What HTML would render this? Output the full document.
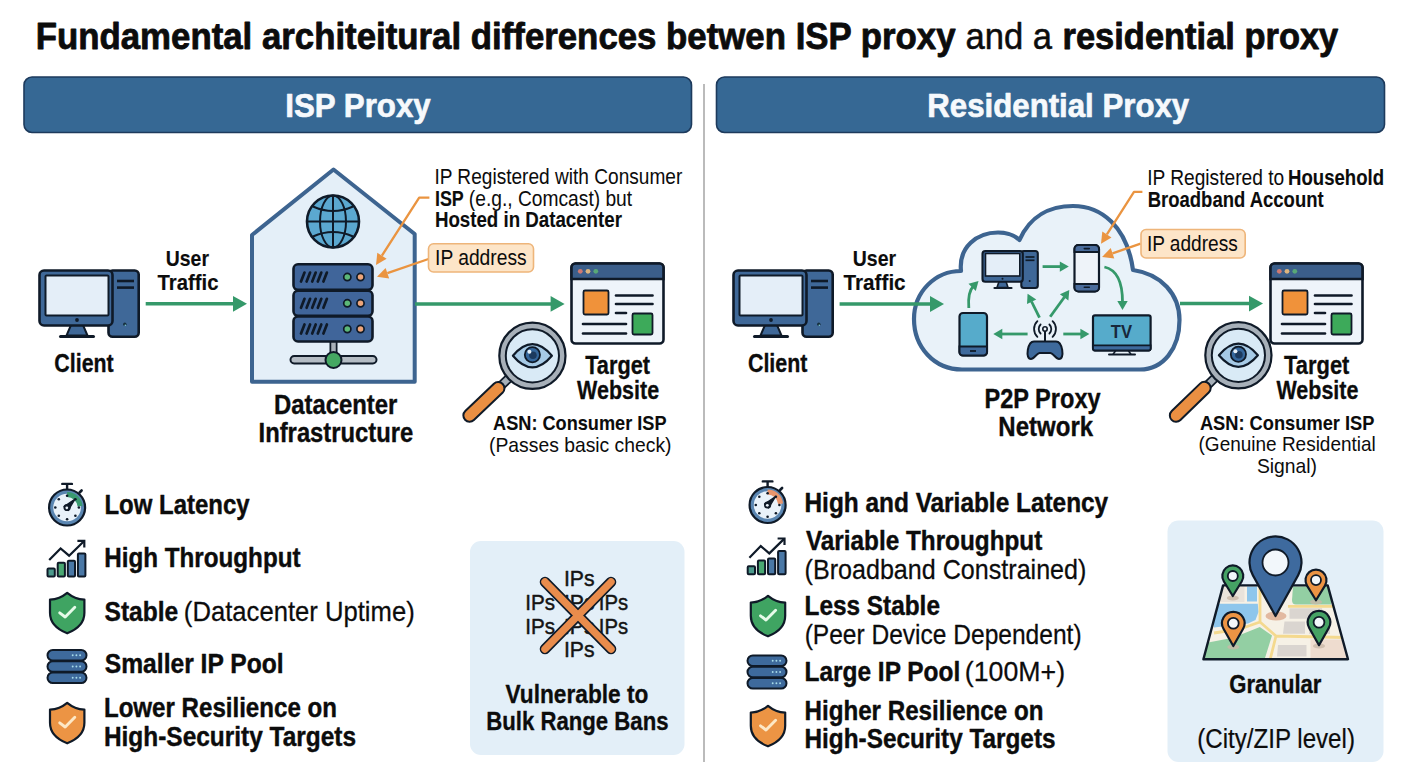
<!DOCTYPE html>
<html><head><meta charset="utf-8"><style>
html,body{margin:0;padding:0;background:#fff;}
svg{display:block;font-family:"Liberation Sans", sans-serif;}
</style></head><body>
<svg width="1408" height="768" viewBox="0 0 1408 768">
<rect width="1408" height="768" fill="#ffffff"/>
<text x="35.74" y="49" font-size="37" font-weight="bold" fill="#0c0c0c" textLength="919.79" lengthAdjust="spacingAndGlyphs" stroke="#0c0c0c" stroke-width="0.81" stroke-linejoin="round" >Fundamental architeitural differences betwen ISP proxy</text>
<text x="965.41" y="49" font-size="37" font-weight="normal" fill="#0c0c0c" textLength="86.67" lengthAdjust="spacingAndGlyphs" stroke="#0c0c0c" stroke-width="0.51" stroke-linejoin="round" >and a</text>
<text x="1062.56" y="49" font-size="37" font-weight="bold" fill="#0c0c0c" textLength="275.72" lengthAdjust="spacingAndGlyphs" stroke="#0c0c0c" stroke-width="0.81" stroke-linejoin="round" >residential proxy</text>
<rect x="24" y="77" width="667.5" height="55.5" rx="8" fill="#366894" stroke="#1d3a5c" stroke-width="1.6"/>
<rect x="716.5" y="77" width="668" height="55.5" rx="8" fill="#366894" stroke="#1d3a5c" stroke-width="1.6"/>
<text x="285.27" y="117" font-size="34" font-weight="bold" fill="#f6f9fc" textLength="145.42" lengthAdjust="spacingAndGlyphs" stroke="#f6f9fc" stroke-width="0.67" stroke-linejoin="round" >ISP Proxy</text>
<text x="927.27" y="117" font-size="34" font-weight="bold" fill="#f6f9fc" textLength="261.96" lengthAdjust="spacingAndGlyphs" stroke="#f6f9fc" stroke-width="0.67" stroke-linejoin="round" >Residential Proxy</text>
<line x1="704" y1="84" x2="704" y2="762" stroke="#b4b4b4" stroke-width="1.8"/>
<g transform="translate(0,0)">
<rect x="108.5" y="270.5" width="30.2" height="66.2" rx="4" fill="#3f6898" stroke="#0f1a28" stroke-width="2.6"/>
<line x1="117" y1="281" x2="134" y2="281" stroke="#0f1a28" stroke-width="2.6"/>
<line x1="117" y1="287.6" x2="134" y2="287.6" stroke="#0f1a28" stroke-width="2.6"/>
<circle cx="124.8" cy="324.3" r="1.7" fill="#16303e"/>
<circle cx="125.3" cy="325.3" r="0.8" fill="#7fd0d8"/>
<polygon points="71,325 83,325 87.5,335.5 66.5,335.5" fill="#3f6898" stroke="#0f1a28" stroke-width="2"/>
<line x1="60.5" y1="336.5" x2="93.5" y2="336.5" stroke="#0f1a28" stroke-width="3" stroke-linecap="round"/>
<rect x="39.5" y="270.5" width="73" height="55" rx="4.5" fill="#3f6898" stroke="#0f1a28" stroke-width="2.6"/>
<rect x="45.5" y="275.5" width="63" height="40" rx="1" fill="#e4eef8" stroke="#0f1a28" stroke-width="2"/>
<circle cx="77" cy="320" r="1.9" fill="#0f1a28"/>
</g>
<text x="54.35" y="372.1" font-size="26" font-weight="bold" fill="#0c0c0c" textLength="59.33" lengthAdjust="spacingAndGlyphs" stroke="#0c0c0c" stroke-width="0.32" stroke-linejoin="round" >Client</text>
<text x="165.84" y="266.3" font-size="22.5" font-weight="bold" fill="#0c0c0c" textLength="43.13" lengthAdjust="spacingAndGlyphs" stroke="#0c0c0c" stroke-width="0.16" stroke-linejoin="round" >User</text>
<text x="157.60" y="289.9" font-size="22.5" font-weight="bold" fill="#0c0c0c" textLength="60.83" lengthAdjust="spacingAndGlyphs" stroke="#0c0c0c" stroke-width="0.16" stroke-linejoin="round" >Traffic</text>
<line x1="145.7" y1="303.8" x2="234" y2="303.8" stroke="#35996a" stroke-width="3.5"/>
<polygon points="233,295.90000000000003 247,303.8 233,311.7" fill="#35996a"/>
<path d="M252,235 L333.5,169.5 L414.7,234 L414.7,381.8 L252,381.8 Z" fill="#e4eff8" stroke="#3d6490" stroke-width="4" stroke-linejoin="round"/>
<circle cx="333" cy="221.5" r="26" fill="#5ba8d0" stroke="#0f1a28" stroke-width="2.6"/>
<ellipse cx="333" cy="221.5" rx="13" ry="26" fill="none" stroke="#0f1a28" stroke-width="2"/>
<line x1="333" y1="195.5" x2="333" y2="247.5" stroke="#0f1a28" stroke-width="2"/>
<line x1="307" y1="221.5" x2="359" y2="221.5" stroke="#0f1a28" stroke-width="2"/>
<path d="M313,206.5 Q333,215.5 353,206.5" fill="none" stroke="#0f1a28" stroke-width="2"/>
<path d="M313,236.5 Q333,227.5 353,236.5" fill="none" stroke="#0f1a28" stroke-width="2"/>
<line x1="333.5" y1="340" x2="333.5" y2="357" stroke="#0f1a28" stroke-width="8"/>
<line x1="333.5" y1="340" x2="333.5" y2="357" stroke="#a8b0b8" stroke-width="4.5"/>
<rect x="290.5" y="356" width="86" height="7.5" rx="3.7" fill="#b4bcc4" stroke="#0f1a28" stroke-width="2"/>
<circle cx="333.5" cy="360" r="8" fill="#45a862" stroke="#0f1a28" stroke-width="2"/>
<rect x="293.5" y="264.3" width="79" height="25.5" rx="4.5" fill="#40659a" stroke="#0f1a28" stroke-width="2.6"/>
<line x1="301.0" y1="281.55" x2="304.5" y2="272.55" stroke="#0f1a28" stroke-width="2.7" stroke-linecap="round"/>
<line x1="306.6" y1="281.55" x2="310.1" y2="272.55" stroke="#0f1a28" stroke-width="2.7" stroke-linecap="round"/>
<line x1="312.2" y1="281.55" x2="315.7" y2="272.55" stroke="#0f1a28" stroke-width="2.7" stroke-linecap="round"/>
<line x1="317.8" y1="281.55" x2="321.3" y2="272.55" stroke="#0f1a28" stroke-width="2.7" stroke-linecap="round"/>
<line x1="323.4" y1="281.55" x2="326.9" y2="272.55" stroke="#0f1a28" stroke-width="2.7" stroke-linecap="round"/>
<circle cx="347.3" cy="277.05" r="3.6" fill="#5cb878" stroke="#0f1a28" stroke-width="1.7"/>
<circle cx="360.5" cy="277.05" r="3.6" fill="#eda57a" stroke="#0f1a28" stroke-width="1.7"/>
<rect x="293.5" y="290.8" width="79" height="25.0" rx="4.5" fill="#40659a" stroke="#0f1a28" stroke-width="2.6"/>
<line x1="301.0" y1="307.8" x2="304.5" y2="298.8" stroke="#0f1a28" stroke-width="2.7" stroke-linecap="round"/>
<line x1="306.6" y1="307.8" x2="310.1" y2="298.8" stroke="#0f1a28" stroke-width="2.7" stroke-linecap="round"/>
<line x1="312.2" y1="307.8" x2="315.7" y2="298.8" stroke="#0f1a28" stroke-width="2.7" stroke-linecap="round"/>
<line x1="317.8" y1="307.8" x2="321.3" y2="298.8" stroke="#0f1a28" stroke-width="2.7" stroke-linecap="round"/>
<line x1="323.4" y1="307.8" x2="326.9" y2="298.8" stroke="#0f1a28" stroke-width="2.7" stroke-linecap="round"/>
<circle cx="347.3" cy="303.3" r="3.6" fill="#5cb878" stroke="#0f1a28" stroke-width="1.7"/>
<circle cx="360.5" cy="303.3" r="3.6" fill="#eda57a" stroke="#0f1a28" stroke-width="1.7"/>
<rect x="293.5" y="316.5" width="79" height="25.0" rx="4.5" fill="#40659a" stroke="#0f1a28" stroke-width="2.6"/>
<line x1="301.0" y1="333.5" x2="304.5" y2="324.5" stroke="#0f1a28" stroke-width="2.7" stroke-linecap="round"/>
<line x1="306.6" y1="333.5" x2="310.1" y2="324.5" stroke="#0f1a28" stroke-width="2.7" stroke-linecap="round"/>
<line x1="312.2" y1="333.5" x2="315.7" y2="324.5" stroke="#0f1a28" stroke-width="2.7" stroke-linecap="round"/>
<line x1="317.8" y1="333.5" x2="321.3" y2="324.5" stroke="#0f1a28" stroke-width="2.7" stroke-linecap="round"/>
<line x1="323.4" y1="333.5" x2="326.9" y2="324.5" stroke="#0f1a28" stroke-width="2.7" stroke-linecap="round"/>
<circle cx="347.3" cy="329.0" r="3.6" fill="#5cb878" stroke="#0f1a28" stroke-width="1.7"/>
<circle cx="360.5" cy="329.0" r="3.6" fill="#eda57a" stroke="#0f1a28" stroke-width="1.7"/>
<text x="273.95" y="413.8" font-size="27.5" font-weight="bold" fill="#0c0c0c" textLength="123.39" lengthAdjust="spacingAndGlyphs" stroke="#0c0c0c" stroke-width="0.38" stroke-linejoin="round" >Datacenter</text>
<text x="258.55" y="442" font-size="27.5" font-weight="bold" fill="#0c0c0c" textLength="154.72" lengthAdjust="spacingAndGlyphs" stroke="#0c0c0c" stroke-width="0.38" stroke-linejoin="round" >Infrastructure</text>
<line x1="415" y1="303.9" x2="551.6" y2="303.9" stroke="#35996a" stroke-width="3.5"/>
<polygon points="550.6,296.0 564.6,303.9 550.6,311.79999999999995" fill="#35996a"/>
<polyline points="429.4,197.6 419.2,197.6 381.9,255.7" fill="none" stroke="#ea9440" stroke-width="2.3" stroke-linejoin="round"/>
<polygon points="376,265 386.6,258.7 377.3,252.8" fill="#ea9440"/>
<polyline points="428.5,259 387.4,273.2" fill="none" stroke="#ea9440" stroke-width="2.3" stroke-linejoin="round"/>
<polygon points="377,276.8 389.2,278.4 385.6,268.0" fill="#ea9440"/>
<rect x="428.5" y="243.8" width="105" height="28.2" rx="5" fill="#fde5c8" stroke="#eeb57a" stroke-width="1.6"/>
<text x="435.07" y="265" font-size="21.5" font-weight="normal" fill="#0c0c0c" textLength="91.55" lengthAdjust="spacingAndGlyphs" stroke="#0c0c0c" stroke-width="0.04" stroke-linejoin="round" >IP address</text>
<text x="434.38" y="183.8" font-size="21.5" font-weight="normal" fill="#0c0c0c" textLength="247.96" lengthAdjust="spacingAndGlyphs" stroke="#0c0c0c" stroke-width="0.04" stroke-linejoin="round" >IP Registered with Consumer</text>
<text x="434.94" y="205.6" font-size="21.5" font-weight="bold" fill="#0c0c0c" textLength="28.83" lengthAdjust="spacingAndGlyphs" stroke="#0c0c0c" stroke-width="0.11" stroke-linejoin="round" >ISP</text>
<text x="468.85" y="205.6" font-size="21.5" font-weight="normal" fill="#0c0c0c" textLength="163.31" lengthAdjust="spacingAndGlyphs" stroke="#0c0c0c" stroke-width="0.04" stroke-linejoin="round" >(e.g., Comcast) but</text>
<text x="434.88" y="227.3" font-size="21.5" font-weight="bold" fill="#0c0c0c" textLength="187.05" lengthAdjust="spacingAndGlyphs" stroke="#0c0c0c" stroke-width="0.11" stroke-linejoin="round" >Hosted in Datacenter</text>
<g transform="translate(0,0)">
<rect x="571.5" y="263.5" width="92" height="80" rx="4" fill="#eef4fa" stroke="#0f1a28" stroke-width="2.6"/>
<path d="M571.5,279 V267.5 a4,4 0 0 1 4,-4 H659.5 a4,4 0 0 1 4,4 V279 Z" fill="#3b5e8a" stroke="#0f1a28" stroke-width="2.6"/>
<circle cx="580.3" cy="271.3" r="2.4" fill="#cf7a72"/>
<circle cx="588" cy="271.3" r="2.4" fill="#dcb47e"/>
<circle cx="595.8" cy="271.3" r="2.4" fill="#58a877"/>
<rect x="583.5" y="290.5" width="25" height="24" rx="1.5" fill="#f0923a" stroke="#0f1a28" stroke-width="1.8"/>
<rect x="632.5" y="313.5" width="20" height="21" rx="1.5" fill="#3daa5a" stroke="#0f1a28" stroke-width="1.8"/>
<line x1="616" y1="295.5" x2="652.5" y2="295.5" stroke="#0f1a28" stroke-width="2.6" stroke-linecap="round"/>
<line x1="616" y1="304" x2="652.5" y2="304" stroke="#0f1a28" stroke-width="2.6" stroke-linecap="round"/>
<line x1="616" y1="313" x2="626" y2="313" stroke="#0f1a28" stroke-width="2.6" stroke-linecap="round"/>
<line x1="583" y1="324" x2="626" y2="324" stroke="#0f1a28" stroke-width="2.6" stroke-linecap="round"/>
<line x1="583" y1="333.5" x2="626" y2="333.5" stroke="#0f1a28" stroke-width="2.6" stroke-linecap="round"/>
</g>
<line x1="509.1" y1="378.0" x2="500.4" y2="386.2" stroke="#0f1a28" stroke-width="9.5"/>
<line x1="509.1" y1="378.0" x2="500.4" y2="386.2" stroke="#a7b0b9" stroke-width="6"/>
<line x1="498.2" y1="388.3" x2="469.6" y2="415.5" stroke="#0f1a28" stroke-width="14.5" stroke-linecap="round"/>
<line x1="498.2" y1="388.3" x2="469.6" y2="415.5" stroke="#ea8f42" stroke-width="10.5" stroke-linecap="round"/>
<circle cx="532.4" cy="355.8" r="33.1" fill="#a7b0b9" stroke="#0f1a28" stroke-width="2.2"/>
<circle cx="532.4" cy="355.8" r="26.6" fill="#d9eaf6" stroke="#0f1a28" stroke-width="2"/>
<path d="M512.9,355.8 Q532.4,332.6 551.9,355.8 Q532.4,379.0 512.9,355.8 Z" fill="#a6cae6" stroke="#0f1a28" stroke-width="2.2" stroke-linejoin="round"/>
<circle cx="532.4" cy="354.8" r="7.6" fill="#35679c" stroke="#0f1a28" stroke-width="1.8"/>
<circle cx="532.9" cy="355.3" r="3.8" fill="#1c3a5e"/>
<circle cx="529.4" cy="351.8" r="2" fill="#e8f2fa"/>
<text x="585.18" y="373.6" font-size="25.4" font-weight="bold" fill="#0c0c0c" textLength="64.88" lengthAdjust="spacingAndGlyphs" stroke="#0c0c0c" stroke-width="0.29" stroke-linejoin="round" >Target</text>
<text x="577.10" y="399.4" font-size="25.4" font-weight="bold" fill="#0c0c0c" textLength="82.07" lengthAdjust="spacingAndGlyphs" stroke="#0c0c0c" stroke-width="0.29" stroke-linejoin="round" >Website</text>
<text x="493.05" y="429.5" font-size="20.8" font-weight="bold" fill="#0c0c0c" textLength="173.54" lengthAdjust="spacingAndGlyphs" stroke="#0c0c0c" stroke-width="0.08" stroke-linejoin="round" >ASN: Consumer ISP</text>
<text x="489.04" y="451.5" font-size="20.6" font-weight="normal" fill="#0c0c0c" textLength="182.47" lengthAdjust="spacingAndGlyphs" stroke="#0c0c0c" stroke-width="0.02" stroke-linejoin="round" >(Passes basic check)</text>
<line x1="67.1" y1="484.5" x2="67.1" y2="489.5" stroke="#0f1a28" stroke-width="2.4"/>
<line x1="62.3" y1="483.9" x2="71.89999999999999" y2="483.9" stroke="#0f1a28" stroke-width="2.4" stroke-linecap="round"/>
<line x1="79.6" y1="492.5" x2="81.6" y2="490.5" stroke="#0f1a28" stroke-width="2.6" stroke-linecap="round"/>
<circle cx="67.1" cy="507.5" r="18" fill="#5a86b2" stroke="#0f1a28" stroke-width="2.2"/>
<circle cx="67.1" cy="507.5" r="13.8" fill="#e9f2fa"/>
<path d="M67.1,492.0 A15.5,15.5 0 0 1 82.5,506.1 L77.6,506.6 A10.5,10.5 0 0 0 67.1,497.0 Z" fill="#3a9a70"/>
<circle cx="67.1" cy="495.7" r="1.3" fill="#0f1a28"/>
<circle cx="75.4" cy="499.2" r="1.3" fill="#0f1a28"/>
<circle cx="78.9" cy="507.5" r="1.3" fill="#0f1a28"/>
<circle cx="75.4" cy="515.8" r="1.3" fill="#0f1a28"/>
<circle cx="67.1" cy="519.3" r="1.3" fill="#0f1a28"/>
<circle cx="58.8" cy="515.8" r="1.3" fill="#0f1a28"/>
<circle cx="55.3" cy="507.5" r="1.3" fill="#0f1a28"/>
<circle cx="58.8" cy="499.2" r="1.3" fill="#0f1a28"/>
<path d="M64.1,506.5 L75.1,499.0 L68.1,510.5 Z" fill="#0f1a28" stroke="#0f1a28" stroke-width="1.4" stroke-linejoin="round"/>
<circle cx="67.1" cy="507.5" r="3.6" fill="#0f1a28"/>
<circle cx="66.8" cy="507.8" r="1.4" fill="#e9f2fa"/>
<text x="104.44" y="514.1" font-size="28.5" font-weight="bold" fill="#0c0c0c" textLength="145.12" lengthAdjust="spacingAndGlyphs" stroke="#0c0c0c" stroke-width="0.43" stroke-linejoin="round" >Low Latency</text>
<rect x="47.5" y="568.6" width="7.3" height="8.0" rx="1" fill="#4c9a8c" stroke="#0f1a28" stroke-width="2"/>
<rect x="57.7" y="562.8000000000001" width="7.2" height="13.8" rx="1" fill="#4aa872" stroke="#0f1a28" stroke-width="2"/>
<rect x="67.8" y="560.8000000000001" width="7.2" height="15.8" rx="1" fill="#4a78a6" stroke="#0f1a28" stroke-width="2"/>
<rect x="77.9" y="553.4" width="7.5" height="23.2" rx="1" fill="#4a78a6" stroke="#0f1a28" stroke-width="2"/>
<polyline points="49.2,560.1 60.6,548.4 69.1,555.7 83.9,541.2" fill="none" stroke="#0f1a28" stroke-width="2.2" stroke-linejoin="miter"/>
<polyline points="77.4,540.8 84.3,540.8 84.3,547.4" fill="none" stroke="#0f1a28" stroke-width="2.2"/>
<text x="104.23" y="567.2" font-size="28.5" font-weight="bold" fill="#0c0c0c" textLength="196.30" lengthAdjust="spacingAndGlyphs" stroke="#0c0c0c" stroke-width="0.43" stroke-linejoin="round" >High Throughput</text>
<path d="M67.2,592.8 C61.2,597.8 55.2,599.3 50.0,599.5999999999999 L50.0,612.8 C50.0,623.8 58.2,629.8 67.2,633.3 C76.2,629.8 84.4,623.8 84.4,612.8 L84.4,599.5999999999999 C79.2,599.3 73.2,597.8 67.2,592.8 Z" fill="#3fa462" stroke="#0f1a28" stroke-width="2.2" stroke-linejoin="round"/>
<polyline points="59.7,612.8 65.2,617.0 74.8,607.3" fill="none" stroke="#e6fbe9" stroke-width="2.9" stroke-linecap="round" stroke-linejoin="round"/>
<text x="104.56" y="620.5" font-size="28.5" font-weight="bold" fill="#0c0c0c" textLength="73.72" lengthAdjust="spacingAndGlyphs" stroke="#0c0c0c" stroke-width="0.43" stroke-linejoin="round" >Stable</text>
<text x="183.86" y="620.5" font-size="28.5" font-weight="normal" fill="#0c0c0c" textLength="230.86" lengthAdjust="spacingAndGlyphs" stroke="#0c0c0c" stroke-width="0.26" stroke-linejoin="round" >(Datacenter Uptime)</text>
<rect x="47.5" y="650.0" width="39" height="10.6" rx="5.3" fill="#3e6a9c" stroke="#0f1a28" stroke-width="2"/>
<circle cx="72.7" cy="655.3" r="0.95" fill="#a8dcea"/>
<circle cx="76.4" cy="655.3" r="0.95" fill="#a8dcea"/>
<circle cx="80.1" cy="655.3" r="0.95" fill="#a8dcea"/>
<rect x="47.5" y="661.2" width="39" height="10.6" rx="5.3" fill="#3e6a9c" stroke="#0f1a28" stroke-width="2"/>
<circle cx="72.7" cy="666.5" r="0.95" fill="#a8dcea"/>
<circle cx="76.4" cy="666.5" r="0.95" fill="#a8dcea"/>
<circle cx="80.1" cy="666.5" r="0.95" fill="#a8dcea"/>
<rect x="47.5" y="672.4" width="39" height="10.6" rx="5.3" fill="#3e6a9c" stroke="#0f1a28" stroke-width="2"/>
<circle cx="72.7" cy="677.7" r="0.95" fill="#a8dcea"/>
<circle cx="76.4" cy="677.7" r="0.95" fill="#a8dcea"/>
<circle cx="80.1" cy="677.7" r="0.95" fill="#a8dcea"/>
<text x="104.76" y="672.7" font-size="28.5" font-weight="bold" fill="#0c0c0c" textLength="178.90" lengthAdjust="spacingAndGlyphs" stroke="#0c0c0c" stroke-width="0.43" stroke-linejoin="round" >Smaller IP Pool</text>
<path d="M67.2,702.8 C61.2,707.8 55.2,709.3 50.0,709.5999999999999 L50.0,722.8 C50.0,733.8 58.2,739.8 67.2,743.3 C76.2,739.8 84.4,733.8 84.4,722.8 L84.4,709.5999999999999 C79.2,709.3 73.2,707.8 67.2,702.8 Z" fill="#ec9444" stroke="#0f1a28" stroke-width="2.2" stroke-linejoin="round"/>
<polyline points="59.7,722.8 65.2,727.0 74.8,717.3" fill="none" stroke="#fde8c6" stroke-width="2.9" stroke-linecap="round" stroke-linejoin="round"/>
<text x="103.93" y="717.2" font-size="28.5" font-weight="bold" fill="#0c0c0c" textLength="233.00" lengthAdjust="spacingAndGlyphs" stroke="#0c0c0c" stroke-width="0.43" stroke-linejoin="round" >Lower Resilience on</text>
<text x="103.91" y="746.3" font-size="28.5" font-weight="bold" fill="#0c0c0c" textLength="252.12" lengthAdjust="spacingAndGlyphs" stroke="#0c0c0c" stroke-width="0.43" stroke-linejoin="round" >High-Security Targets</text>
<rect x="470" y="541" width="214.5" height="214" rx="11" fill="#e3eff8"/>
<text x="563.89" y="585.8" font-size="21.5" font-weight="normal" fill="#141414" textLength="30.65" lengthAdjust="spacingAndGlyphs" stroke="#141414" stroke-width="0.45" stroke-linejoin="round" >IPs</text>
<text x="525.35" y="609.8" font-size="21.5" font-weight="normal" fill="#141414" textLength="29.77" lengthAdjust="spacingAndGlyphs" stroke="#141414" stroke-width="0.45" stroke-linejoin="round" >IPs</text>
<text x="563.89" y="609.8" font-size="21.5" font-weight="normal" fill="#141414" textLength="30.65" lengthAdjust="spacingAndGlyphs" stroke="#141414" stroke-width="0.45" stroke-linejoin="round" >IPs</text>
<text x="598.77" y="609.8" font-size="21.5" font-weight="normal" fill="#141414" textLength="29.33" lengthAdjust="spacingAndGlyphs" stroke="#141414" stroke-width="0.45" stroke-linejoin="round" >IPs</text>
<text x="525.35" y="633.7" font-size="21.5" font-weight="normal" fill="#141414" textLength="29.77" lengthAdjust="spacingAndGlyphs" stroke="#141414" stroke-width="0.45" stroke-linejoin="round" >IPs</text>
<text x="563.89" y="633.7" font-size="21.5" font-weight="normal" fill="#141414" textLength="30.65" lengthAdjust="spacingAndGlyphs" stroke="#141414" stroke-width="0.45" stroke-linejoin="round" >IPs</text>
<text x="598.77" y="633.7" font-size="21.5" font-weight="normal" fill="#141414" textLength="29.33" lengthAdjust="spacingAndGlyphs" stroke="#141414" stroke-width="0.45" stroke-linejoin="round" >IPs</text>
<text x="563.89" y="657.4" font-size="21.5" font-weight="normal" fill="#141414" textLength="30.65" lengthAdjust="spacingAndGlyphs" stroke="#141414" stroke-width="0.45" stroke-linejoin="round" >IPs</text>
<line x1="545" y1="582" x2="611" y2="649" stroke="#0f1a28" stroke-width="10.6" stroke-linecap="round"/>
<line x1="611" y1="582" x2="545" y2="649" stroke="#0f1a28" stroke-width="10.6" stroke-linecap="round"/>
<line x1="545" y1="582" x2="611" y2="649" stroke="#e98c4c" stroke-width="7.4" stroke-linecap="round"/>
<line x1="611" y1="582" x2="545" y2="649" stroke="#e98c4c" stroke-width="7.4" stroke-linecap="round"/>
<text x="505.59" y="702.6" font-size="26.3" font-weight="bold" fill="#0c0c0c" textLength="142.78" lengthAdjust="spacingAndGlyphs" stroke="#0c0c0c" stroke-width="0.33" stroke-linejoin="round" >Vulnerable to</text>
<text x="486.26" y="730" font-size="26.3" font-weight="bold" fill="#0c0c0c" textLength="182.31" lengthAdjust="spacingAndGlyphs" stroke="#0c0c0c" stroke-width="0.33" stroke-linejoin="round" >Bulk Range Bans</text>
<g transform="translate(694,0)">
<rect x="108.5" y="270.5" width="30.2" height="66.2" rx="4" fill="#3f6898" stroke="#0f1a28" stroke-width="2.6"/>
<line x1="117" y1="281" x2="134" y2="281" stroke="#0f1a28" stroke-width="2.6"/>
<line x1="117" y1="287.6" x2="134" y2="287.6" stroke="#0f1a28" stroke-width="2.6"/>
<circle cx="124.8" cy="324.3" r="1.7" fill="#16303e"/>
<circle cx="125.3" cy="325.3" r="0.8" fill="#7fd0d8"/>
<polygon points="71,325 83,325 87.5,335.5 66.5,335.5" fill="#3f6898" stroke="#0f1a28" stroke-width="2"/>
<line x1="60.5" y1="336.5" x2="93.5" y2="336.5" stroke="#0f1a28" stroke-width="3" stroke-linecap="round"/>
<rect x="39.5" y="270.5" width="73" height="55" rx="4.5" fill="#3f6898" stroke="#0f1a28" stroke-width="2.6"/>
<rect x="45.5" y="275.5" width="63" height="40" rx="1" fill="#e4eef8" stroke="#0f1a28" stroke-width="2"/>
<circle cx="77" cy="320" r="1.9" fill="#0f1a28"/>
</g>
<text x="747.94" y="372.1" font-size="26" font-weight="bold" fill="#0c0c0c" textLength="59.53" lengthAdjust="spacingAndGlyphs" stroke="#0c0c0c" stroke-width="0.32" stroke-linejoin="round" >Client</text>
<text x="852.83" y="266" font-size="22.5" font-weight="bold" fill="#0c0c0c" textLength="43.23" lengthAdjust="spacingAndGlyphs" stroke="#0c0c0c" stroke-width="0.16" stroke-linejoin="round" >User</text>
<text x="843.59" y="290" font-size="22.5" font-weight="bold" fill="#0c0c0c" textLength="62.05" lengthAdjust="spacingAndGlyphs" stroke="#0c0c0c" stroke-width="0.16" stroke-linejoin="round" >Traffic</text>
<path d="M962,369.5 C934,369.5 914,347 914,319 C914,292 935,271 961,271 C958.5,247 977,232.5 998,232.5 C1008,232.5 1015,235.5 1019.5,240 C1030,216 1050,206 1073,206 C1101,206 1127,226 1133,270 C1161,274 1179.5,294 1179.5,320 C1179.5,349 1163,369.5 1140,369.5 Z" fill="#e9f2f9" stroke="#3d6490" stroke-width="4.2" stroke-linejoin="round"/>
<line x1="839.6" y1="304" x2="931" y2="304" stroke="#35996a" stroke-width="3.5"/>
<polygon points="930,296.1 944,304 930,311.9" fill="#35996a"/>
<line x1="1180" y1="303.6" x2="1250" y2="303.6" stroke="#35996a" stroke-width="3.5"/>
<polygon points="1249,295.70000000000005 1263,303.6 1249,311.5" fill="#35996a"/>
<rect x="1021.3" y="251" width="16.5" height="37" rx="2.5" fill="#3f6898" stroke="#0f1a28" stroke-width="2.1"/>
<line x1="1025.5" y1="257" x2="1034.5" y2="257" stroke="#0f1a28" stroke-width="1.7"/>
<line x1="1025.5" y1="260.3" x2="1034.5" y2="260.3" stroke="#0f1a28" stroke-width="1.7"/>
<circle cx="1029.7" cy="281" r="1" fill="#0f1a28"/>
<polygon points="999.0,281.5 1006.0,281.5 1008.0,287.5 997.0,287.5" fill="#3f6898" stroke="#0f1a28" stroke-width="1.6"/>
<line x1="994.5" y1="288" x2="1011.5" y2="288" stroke="#0f1a28" stroke-width="2.2" stroke-linecap="round"/>
<rect x="982.5" y="251" width="40.3" height="30.7" rx="2.8" fill="#3f6898" stroke="#0f1a28" stroke-width="2.1"/>
<rect x="985.5" y="253.5" width="34.3" height="22.5" fill="#e4eef8" stroke="#0f1a28" stroke-width="1.6"/>
<circle cx="1002.5" cy="278.8" r="1" fill="#0f1a28"/>
<rect x="1074.5" y="245" width="24.5" height="46.5" rx="4" fill="#eef3f9" stroke="#0f1a28" stroke-width="2.2"/>
<path d="M1074.5,252 V249 a4,4 0 0 1 4,-4 H1095 a4,4 0 0 1 4,4 V252 Z" fill="#4a6c9c" stroke="#0f1a28" stroke-width="2"/>
<path d="M1074.5,284 V287.5 a4,4 0 0 0 4,4 H1095 a4,4 0 0 0 4,-4 V284 Z" fill="#4a6c9c" stroke="#0f1a28" stroke-width="2"/>
<line x1="1084.3" y1="248.6" x2="1089.3" y2="248.6" stroke="#0f1a28" stroke-width="1.6" stroke-linecap="round"/>
<line x1="1084.3" y1="287.2" x2="1089.3" y2="287.2" stroke="#0f1a28" stroke-width="1.6" stroke-linecap="round"/>
<rect x="959.5" y="313" width="27.5" height="42.5" rx="3.5" fill="#56abcb" stroke="#0f1a28" stroke-width="2.2"/>
<path d="M959.5,346.5 V352 a3.5,3.5 0 0 0 3.5,3.5 H983.5 a3.5,3.5 0 0 0 3.5,-3.5 V346.5 Z" fill="#3e6a9c" stroke="#0f1a28" stroke-width="2"/>
<line x1="970" y1="351" x2="976" y2="351" stroke="#0f1a28" stroke-width="1.8"/>
<line x1="1116" y1="350" x2="1113" y2="354.5" stroke="#0f1a28" stroke-width="1.6"/>
<line x1="1128" y1="350" x2="1131" y2="354.5" stroke="#0f1a28" stroke-width="1.6"/>
<line x1="1109" y1="354.6" x2="1135" y2="354.6" stroke="#0f1a28" stroke-width="2" stroke-linecap="round"/>
<rect x="1093" y="315.3" width="57.6" height="35" rx="2" fill="#56abcb" stroke="#0f1a28" stroke-width="2.2"/>
<path d="M1093,345.3 H1150.6 V348.5 a2,2 0 0 1 -2,2 H1095 a2,2 0 0 1 -2,-2 Z" fill="#3e6a9c" stroke="#0f1a28" stroke-width="1.8"/>
<text x="1110.83" y="337.8" font-size="17.5" font-weight="bold" fill="#18283a" textLength="21.30" lengthAdjust="spacingAndGlyphs" >TV</text>
<path d="M1034,341.5 C1030,341.5 1028.5,346 1027.8,350 C1027,355 1028,359 1031,359 C1034,359 1036.5,353.5 1039.5,353 L1050.5,353 C1053.5,353.5 1056,359 1059,359 C1062,359 1063,355 1062.2,350 C1061.5,346 1060,341.5 1056,341.5 Z" fill="#3e6a9c" stroke="#0f1a28" stroke-width="2" stroke-linejoin="round"/>
<line x1="1045" y1="330" x2="1045" y2="341.5" stroke="#0f1a28" stroke-width="2"/>
<circle cx="1045" cy="329" r="2.2" fill="#eef3f9" stroke="#0f1a28" stroke-width="1.6"/>
<path d="M1040.6,324.5 A6.3,6.3 0 0 0 1040.6,333.5" fill="none" stroke="#0f1a28" stroke-width="1.8" stroke-linecap="round"/>
<path d="M1049.4,324.5 A6.3,6.3 0 0 1 1049.4,333.5" fill="none" stroke="#0f1a28" stroke-width="1.8" stroke-linecap="round"/>
<path d="M1037.4,321.2 A10.8,10.8 0 0 0 1037.4,336.8" fill="none" stroke="#0f1a28" stroke-width="1.8" stroke-linecap="round"/>
<path d="M1052.6,321.2 A10.8,10.8 0 0 1 1052.6,336.8" fill="none" stroke="#0f1a28" stroke-width="1.8" stroke-linecap="round"/>
<path d="M1042.6,266.6 L1061,266.6 " fill="none" stroke="#35996a" stroke-width="2.8"/>
<polygon points="1068.8,266.6 1059.8,261.4 1059.8,271.8" fill="#35996a"/>
<path d="M1104.4,267 Q1122.5,271 1122.5,302 " fill="none" stroke="#35996a" stroke-width="2.8"/>
<polygon points="1122.5,310 1127.7,301.0 1117.3,301.0" fill="#35996a"/>
<path d="M968.8,308 Q967.5,292 973.5,286 " fill="none" stroke="#35996a" stroke-width="2.8"/>
<polygon points="978.5,281 968.5,283.7 975.8,291.0" fill="#35996a"/>
<path d="M1039.5,317.6 L1031.5,301.5 " fill="none" stroke="#35996a" stroke-width="2.8"/>
<polygon points="1027.6,293.7 1027.0,304.1 1036.3,299.4" fill="#35996a"/>
<path d="M1050.2,316.8 L1064.5,297 " fill="none" stroke="#35996a" stroke-width="2.8"/>
<polygon points="1069.3,290 1059.9,294.3 1068.4,300.4" fill="#35996a"/>
<path d="M1027.6,334 L1001,334 " fill="none" stroke="#35996a" stroke-width="2.8"/>
<polygon points="993.3,334 1002.3,339.2 1002.3,328.8" fill="#35996a"/>
<path d="M1063.3,334 L1081,334 " fill="none" stroke="#35996a" stroke-width="2.8"/>
<polygon points="1089.4,334 1080.4,328.8 1080.4,339.2" fill="#35996a"/>
<polyline points="1142.4,191.9 1134,191.9 1106.9,234.4" fill="none" stroke="#ea9440" stroke-width="2.3" stroke-linejoin="round"/>
<polygon points="1101,243.7 1111.5,237.4 1102.3,231.5" fill="#ea9440"/>
<polyline points="1140.6,243.7 1112.5,253.3" fill="none" stroke="#ea9440" stroke-width="2.3" stroke-linejoin="round"/>
<polygon points="1102.1,256.9 1114.3,258.5 1110.7,248.1" fill="#ea9440"/>
<rect x="1141" y="229.5" width="104.2" height="28.5" rx="5" fill="#fde5c8" stroke="#eeb57a" stroke-width="1.6"/>
<text x="1146.88" y="250.5" font-size="21.5" font-weight="normal" fill="#0c0c0c" textLength="90.83" lengthAdjust="spacingAndGlyphs" stroke="#0c0c0c" stroke-width="0.04" stroke-linejoin="round" >IP address</text>
<text x="1147.18" y="184.9" font-size="21.5" font-weight="normal" fill="#0c0c0c" textLength="136.94" lengthAdjust="spacingAndGlyphs" stroke="#0c0c0c" stroke-width="0.04" stroke-linejoin="round" >IP Registered to</text>
<text x="1288.09" y="184.9" font-size="21.5" font-weight="bold" fill="#0c0c0c" textLength="95.94" lengthAdjust="spacingAndGlyphs" stroke="#0c0c0c" stroke-width="0.11" stroke-linejoin="round" >Household</text>
<text x="1147.70" y="207.3" font-size="21.5" font-weight="bold" fill="#0c0c0c" textLength="175.96" lengthAdjust="spacingAndGlyphs" stroke="#0c0c0c" stroke-width="0.11" stroke-linejoin="round" >Broadband Account</text>
<text x="984.47" y="407.8" font-size="27" font-weight="bold" fill="#0c0c0c" textLength="116.13" lengthAdjust="spacingAndGlyphs" stroke="#0c0c0c" stroke-width="0.36" stroke-linejoin="round" >P2P Proxy</text>
<text x="998.34" y="436.3" font-size="27" font-weight="bold" fill="#0c0c0c" textLength="94.77" lengthAdjust="spacingAndGlyphs" stroke="#0c0c0c" stroke-width="0.36" stroke-linejoin="round" >Network</text>
<g transform="translate(699,0)">
<rect x="571.5" y="263.5" width="92" height="80" rx="4" fill="#eef4fa" stroke="#0f1a28" stroke-width="2.6"/>
<path d="M571.5,279 V267.5 a4,4 0 0 1 4,-4 H659.5 a4,4 0 0 1 4,4 V279 Z" fill="#3b5e8a" stroke="#0f1a28" stroke-width="2.6"/>
<circle cx="580.3" cy="271.3" r="2.4" fill="#cf7a72"/>
<circle cx="588" cy="271.3" r="2.4" fill="#dcb47e"/>
<circle cx="595.8" cy="271.3" r="2.4" fill="#58a877"/>
<rect x="583.5" y="290.5" width="25" height="24" rx="1.5" fill="#f0923a" stroke="#0f1a28" stroke-width="1.8"/>
<rect x="632.5" y="313.5" width="20" height="21" rx="1.5" fill="#3daa5a" stroke="#0f1a28" stroke-width="1.8"/>
<line x1="616" y1="295.5" x2="652.5" y2="295.5" stroke="#0f1a28" stroke-width="2.6" stroke-linecap="round"/>
<line x1="616" y1="304" x2="652.5" y2="304" stroke="#0f1a28" stroke-width="2.6" stroke-linecap="round"/>
<line x1="616" y1="313" x2="626" y2="313" stroke="#0f1a28" stroke-width="2.6" stroke-linecap="round"/>
<line x1="583" y1="324" x2="626" y2="324" stroke="#0f1a28" stroke-width="2.6" stroke-linecap="round"/>
<line x1="583" y1="333.5" x2="626" y2="333.5" stroke="#0f1a28" stroke-width="2.6" stroke-linecap="round"/>
</g>
<line x1="1215.2" y1="377.7" x2="1206.6" y2="386.0" stroke="#0f1a28" stroke-width="9.5"/>
<line x1="1215.2" y1="377.7" x2="1206.6" y2="386.0" stroke="#a7b0b9" stroke-width="6"/>
<line x1="1204.4" y1="388.1" x2="1176.1" y2="415.5" stroke="#0f1a28" stroke-width="14.5" stroke-linecap="round"/>
<line x1="1204.4" y1="388.1" x2="1176.1" y2="415.5" stroke="#ea8f42" stroke-width="10.5" stroke-linecap="round"/>
<circle cx="1238.4" cy="355.3" r="33.1" fill="#a7b0b9" stroke="#0f1a28" stroke-width="2.2"/>
<circle cx="1238.4" cy="355.3" r="26.6" fill="#d9eaf6" stroke="#0f1a28" stroke-width="2"/>
<path d="M1218.9,355.3 Q1238.4,332.1 1257.9,355.3 Q1238.4,378.5 1218.9,355.3 Z" fill="#a6cae6" stroke="#0f1a28" stroke-width="2.2" stroke-linejoin="round"/>
<circle cx="1238.4" cy="354.3" r="7.6" fill="#35679c" stroke="#0f1a28" stroke-width="1.8"/>
<circle cx="1238.9" cy="354.8" r="3.8" fill="#1c3a5e"/>
<circle cx="1235.4" cy="351.3" r="2" fill="#e8f2fa"/>
<text x="1284.08" y="373.6" font-size="25.4" font-weight="bold" fill="#0c0c0c" textLength="65.28" lengthAdjust="spacingAndGlyphs" stroke="#0c0c0c" stroke-width="0.29" stroke-linejoin="round" >Target</text>
<text x="1276.40" y="399.4" font-size="25.4" font-weight="bold" fill="#0c0c0c" textLength="82.07" lengthAdjust="spacingAndGlyphs" stroke="#0c0c0c" stroke-width="0.29" stroke-linejoin="round" >Website</text>
<text x="1199.94" y="429.6" font-size="20.8" font-weight="bold" fill="#0c0c0c" textLength="174.45" lengthAdjust="spacingAndGlyphs" stroke="#0c0c0c" stroke-width="0.08" stroke-linejoin="round" >ASN: Consumer ISP</text>
<text x="1198.56" y="451.4" font-size="20.6" font-weight="normal" fill="#0c0c0c" textLength="177.25" lengthAdjust="spacingAndGlyphs" stroke="#0c0c0c" stroke-width="0.02" stroke-linejoin="round" >(Genuine Residential</text>
<text x="1256.93" y="473.4" font-size="20.6" font-weight="normal" fill="#0c0c0c" textLength="60.08" lengthAdjust="spacingAndGlyphs" stroke="#0c0c0c" stroke-width="0.02" stroke-linejoin="round" >Signal)</text>
<line x1="767.6" y1="482" x2="767.6" y2="487" stroke="#0f1a28" stroke-width="2.4"/>
<line x1="762.8000000000001" y1="481.4" x2="772.4" y2="481.4" stroke="#0f1a28" stroke-width="2.4" stroke-linecap="round"/>
<line x1="780.1" y1="490" x2="782.1" y2="488" stroke="#0f1a28" stroke-width="2.6" stroke-linecap="round"/>
<circle cx="767.6" cy="505" r="18" fill="#5a86b2" stroke="#0f1a28" stroke-width="2.2"/>
<circle cx="767.6" cy="505" r="13.8" fill="#e9f2fa"/>
<path d="M767.6,489.5 A15.5,15.5 0 0 1 783.0,503.6 L778.1,504.1 A10.5,10.5 0 0 0 767.6,494.5 Z" fill="#e8956c"/>
<circle cx="767.6" cy="493.2" r="1.3" fill="#0f1a28"/>
<circle cx="775.9" cy="496.7" r="1.3" fill="#0f1a28"/>
<circle cx="779.4" cy="505.0" r="1.3" fill="#0f1a28"/>
<circle cx="775.9" cy="513.3" r="1.3" fill="#0f1a28"/>
<circle cx="767.6" cy="516.8" r="1.3" fill="#0f1a28"/>
<circle cx="759.3" cy="513.3" r="1.3" fill="#0f1a28"/>
<circle cx="755.8" cy="505.0" r="1.3" fill="#0f1a28"/>
<circle cx="759.3" cy="496.7" r="1.3" fill="#0f1a28"/>
<path d="M764.6,504 L775.6,496.5 L768.6,508 Z" fill="#0f1a28" stroke="#0f1a28" stroke-width="1.4" stroke-linejoin="round"/>
<circle cx="767.6" cy="505" r="3.6" fill="#0f1a28"/>
<circle cx="767.3000000000001" cy="505.3" r="1.4" fill="#e9f2fa"/>
<text x="804.51" y="512.2" font-size="28.5" font-weight="bold" fill="#0c0c0c" textLength="303.69" lengthAdjust="spacingAndGlyphs" stroke="#0c0c0c" stroke-width="0.43" stroke-linejoin="round" >High and Variable Latency</text>
<rect x="747.7" y="566.3" width="7.3" height="8.0" rx="1" fill="#4c9a8c" stroke="#0f1a28" stroke-width="2"/>
<rect x="757.9000000000001" y="560.5" width="7.2" height="13.8" rx="1" fill="#4aa872" stroke="#0f1a28" stroke-width="2"/>
<rect x="768.0" y="558.5" width="7.2" height="15.8" rx="1" fill="#4a78a6" stroke="#0f1a28" stroke-width="2"/>
<rect x="778.1" y="551.0999999999999" width="7.5" height="23.2" rx="1" fill="#4a78a6" stroke="#0f1a28" stroke-width="2"/>
<polyline points="749.4,557.8 760.8,546.1 769.3,553.4 784.1,538.9" fill="none" stroke="#0f1a28" stroke-width="2.2" stroke-linejoin="miter"/>
<polyline points="777.6,538.5 784.5,538.5 784.5,545.1" fill="none" stroke="#0f1a28" stroke-width="2.2"/>
<text x="805.98" y="549.5" font-size="28.5" font-weight="bold" fill="#0c0c0c" textLength="236.33" lengthAdjust="spacingAndGlyphs" stroke="#0c0c0c" stroke-width="0.43" stroke-linejoin="round" >Variable Throughput</text>
<text x="804.59" y="579.2" font-size="28.5" font-weight="normal" fill="#0c0c0c" textLength="281.82" lengthAdjust="spacingAndGlyphs" stroke="#0c0c0c" stroke-width="0.26" stroke-linejoin="round" >(Broadband Constrained)</text>
<path d="M768,595.8 C762,600.8 756,602.3 750.8,602.5999999999999 L750.8,615.8 C750.8,626.8 759,632.8 768,636.3 C777,632.8 785.2,626.8 785.2,615.8 L785.2,602.5999999999999 C780,602.3 774,600.8 768,595.8 Z" fill="#3fa462" stroke="#0f1a28" stroke-width="2.2" stroke-linejoin="round"/>
<polyline points="760.5,615.8 766,620.0 775.6,610.3" fill="none" stroke="#e6fbe9" stroke-width="2.9" stroke-linecap="round" stroke-linejoin="round"/>
<text x="804.52" y="615.4" font-size="28.5" font-weight="bold" fill="#0c0c0c" textLength="135.42" lengthAdjust="spacingAndGlyphs" stroke="#0c0c0c" stroke-width="0.43" stroke-linejoin="round" >Less Stable</text>
<text x="804.63" y="643.9" font-size="28.5" font-weight="normal" fill="#0c0c0c" textLength="276.94" lengthAdjust="spacingAndGlyphs" stroke="#0c0c0c" stroke-width="0.26" stroke-linejoin="round" >(Peer Device Dependent)</text>
<rect x="747.5" y="655.5" width="39" height="10.6" rx="5.3" fill="#3e6a9c" stroke="#0f1a28" stroke-width="2"/>
<circle cx="772.7" cy="660.8" r="0.95" fill="#a8dcea"/>
<circle cx="776.4" cy="660.8" r="0.95" fill="#a8dcea"/>
<circle cx="780.1" cy="660.8" r="0.95" fill="#a8dcea"/>
<rect x="747.5" y="666.7" width="39" height="10.6" rx="5.3" fill="#3e6a9c" stroke="#0f1a28" stroke-width="2"/>
<circle cx="772.7" cy="672.0" r="0.95" fill="#a8dcea"/>
<circle cx="776.4" cy="672.0" r="0.95" fill="#a8dcea"/>
<circle cx="780.1" cy="672.0" r="0.95" fill="#a8dcea"/>
<rect x="747.5" y="677.9" width="39" height="10.6" rx="5.3" fill="#3e6a9c" stroke="#0f1a28" stroke-width="2"/>
<circle cx="772.7" cy="683.2" r="0.95" fill="#a8dcea"/>
<circle cx="776.4" cy="683.2" r="0.95" fill="#a8dcea"/>
<circle cx="780.1" cy="683.2" r="0.95" fill="#a8dcea"/>
<text x="804.51" y="681.2" font-size="28.5" font-weight="bold" fill="#0c0c0c" textLength="155.73" lengthAdjust="spacingAndGlyphs" stroke="#0c0c0c" stroke-width="0.43" stroke-linejoin="round" >Large IP Pool</text>
<text x="964.80" y="681.2" font-size="28.5" font-weight="normal" fill="#0c0c0c" textLength="100.25" lengthAdjust="spacingAndGlyphs" stroke="#0c0c0c" stroke-width="0.26" stroke-linejoin="round" >(100M+)</text>
<path d="M768,705.8 C762,710.8 756,712.3 750.8,712.5999999999999 L750.8,725.8 C750.8,736.8 759,742.8 768,746.3 C777,742.8 785.2,736.8 785.2,725.8 L785.2,712.5999999999999 C780,712.3 774,710.8 768,705.8 Z" fill="#ec9444" stroke="#0f1a28" stroke-width="2.2" stroke-linejoin="round"/>
<polyline points="760.5,725.8 766,730.0 775.6,720.3" fill="none" stroke="#fde8c6" stroke-width="2.9" stroke-linecap="round" stroke-linejoin="round"/>
<text x="804.53" y="720" font-size="28.5" font-weight="bold" fill="#0c0c0c" textLength="238.96" lengthAdjust="spacingAndGlyphs" stroke="#0c0c0c" stroke-width="0.43" stroke-linejoin="round" >Higher Resilience on</text>
<text x="804.52" y="748.4" font-size="28.5" font-weight="bold" fill="#0c0c0c" textLength="251.01" lengthAdjust="spacingAndGlyphs" stroke="#0c0c0c" stroke-width="0.43" stroke-linejoin="round" >High-Security Targets</text>
<rect x="1167.5" y="520.5" width="216" height="241.5" rx="11" fill="#e3eff8"/>
<clipPath id="mapclip"><polygon points="1223.1,585.4 1327.7,585.4 1348,659.2 1203.4,659.2"/></clipPath>
<polygon points="1223.1,585.4 1327.7,585.4 1348,659.2 1203.4,659.2" fill="#f3ead9"/>
<g clip-path="url(#mapclip)">
<path d="M1200,586 H1350 V662 H1200 Z" fill="#f6f1e6"/>
<path d="M1221,586.5 H1244.5 V602 H1218 Z" fill="#e9e3db"/>
<path d="M1247,586.5 H1257 V601.5 H1247 Z" fill="#8ec6ec"/>
<path d="M1212,603.8 H1257.8 L1258.5,612 L1255.5,620 L1248,623.5 L1214,627.5 Z" fill="#8ec6ec"/>
<path d="M1203,643.5 L1233,637.8 L1259.8,627 L1272,635.5 L1265,658 L1203,658 Z" fill="#93cfa3"/>
<path d="M1293,586.5 H1331 V604.5 H1296 Q1292,604.5 1292,600 Z" fill="#93cfa3"/>
<path d="M1289.5,608.2 H1322 L1324,618.8 H1289.5 Z" fill="#dad5d0"/>
<path d="M1284.5,621.5 H1305 V633.8 H1283 Z" fill="#dad5d0"/>
<path d="M1278,645 H1306.5 V656.5 H1277 Z" fill="#dad5d0"/>
<path d="M1310.5,639.5 H1346 V658 H1310.5 Z" fill="#eedccf"/>
<path d="M1310,621 H1330 V634 H1309 Z" fill="#dad5d0"/>
<path d="M1260,586 L1260,622 L1276,636 L1270,660 M1214,633 L1240,629 L1260,622 M1276,636 L1345,637.5 M1288,606.3 L1340,606.3" fill="none" stroke="#f4d98e" stroke-width="2.8" stroke-linejoin="round"/>
</g>
<polygon points="1223.1,585.4 1327.7,585.4 1348,659.2 1203.4,659.2" fill="none" stroke="#0f1a28" stroke-width="2.4" stroke-linejoin="round"/>
<ellipse cx="1276" cy="616" rx="10.5" ry="4.5" fill="#e2b9a0"/>
<ellipse cx="1232.8" cy="598" rx="6" ry="2.6" fill="#c9b8a8" opacity="0.8"/>
<ellipse cx="1316" cy="602" rx="6" ry="2.6" fill="#c9b8a8" opacity="0.8"/>
<ellipse cx="1233.3" cy="647" rx="6" ry="2.6" fill="#c9b8a8" opacity="0.8"/>
<ellipse cx="1319" cy="646" rx="6" ry="2.6" fill="#c9b8a8" opacity="0.8"/>
<path d="M1232.8,596 L1223.9,581.5 A10.5,10.5 0 1 1 1241.7,581.5 Z" fill="#45a264" stroke="#0f1a28" stroke-width="2.2" stroke-linejoin="round"/>
<circle cx="1232.8" cy="576" r="5" fill="#f2f7fb" stroke="#0f1a28" stroke-width="1.8"/>
<path d="M1316,600.3 L1307.0,585.6 A10.5,10.5 0 1 1 1325.0,585.6 Z" fill="#ec9444" stroke="#0f1a28" stroke-width="2.2" stroke-linejoin="round"/>
<circle cx="1316" cy="580.1" r="5" fill="#f2f7fb" stroke="#0f1a28" stroke-width="1.8"/>
<path d="M1233.3,646 L1223.5,628.8 A11.3,11.3 0 1 1 1243.1,628.8 Z" fill="#ec9444" stroke="#0f1a28" stroke-width="2.2" stroke-linejoin="round"/>
<circle cx="1233.3" cy="623.2" r="5.4" fill="#f2f7fb" stroke="#0f1a28" stroke-width="1.8"/>
<path d="M1319,645.2 L1309.2,627.9 A11.3,11.3 0 1 1 1328.8,627.9 Z" fill="#45a264" stroke="#0f1a28" stroke-width="2.2" stroke-linejoin="round"/>
<circle cx="1319" cy="622.3" r="5.4" fill="#f2f7fb" stroke="#0f1a28" stroke-width="1.8"/>
<path d="M1275.5,616 L1252.8,575.1 A26,26 0 1 1 1298.2,575.1 Z" fill="#3e6a9e" stroke="#0f1a28" stroke-width="2.2" stroke-linejoin="round"/>
<circle cx="1275.5" cy="562.5" r="13" fill="#f2f7fb" stroke="#0f1a28" stroke-width="1.8"/>
<text x="1229.32" y="692.7" font-size="26" font-weight="bold" fill="#0c0c0c" textLength="92.17" lengthAdjust="spacingAndGlyphs" stroke="#0c0c0c" stroke-width="0.32" stroke-linejoin="round" >Granular</text>
<text x="1197.25" y="748" font-size="27" font-weight="normal" fill="#0c0c0c" textLength="157.67" lengthAdjust="spacingAndGlyphs" stroke="#0c0c0c" stroke-width="0.21" stroke-linejoin="round" >(City/ZIP level)</text>
</svg></body></html>
